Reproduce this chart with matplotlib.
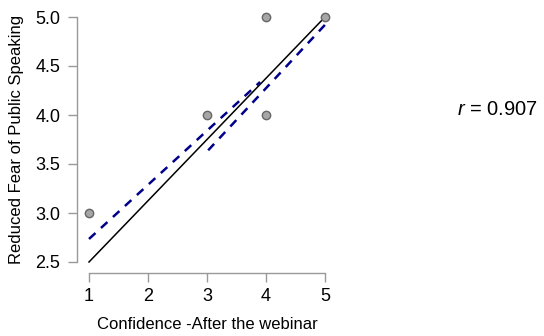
import matplotlib
matplotlib.use("Agg")
import matplotlib.pyplot as plt

plt.rcParams['font.family'] = ['Liberation Sans', 'DejaVu Sans']
plt.rcParams['mathtext.fontset'] = 'custom'
plt.rcParams['mathtext.it'] = 'Liberation Sans:italic'
plt.rcParams['mathtext.rm'] = 'Liberation Sans'

# data
conf_after = [1, 3, 4, 4, 5]
reduced_fear = [3, 4, 4, 5, 5]
fit_x = [1, 5]
fit_y = [2.5, 5.0]
dash1_x = [1.0, 3.9]
dash1_y = [2.735, 4.337]
dash2_x = [3.02, 5.0]
dash2_y = [3.64, 4.92]
x_ticks = [1, 2, 3, 4, 5]
y_ticks = [2.5, 3.0, 3.5, 4.0, 4.5, 5.0]
r_value = 0.907

W, H = 544, 336
fig = plt.figure(figsize=(W / 100, H / 100), dpi=100)
ax = fig.add_axes([89 / W, (H - 262) / H, (325 - 89) / W, (262 - 17) / H])

ax.plot(fit_x, fit_y, color='black', lw=1.1, clip_on=False, zorder=2)
ax.plot(dash1_x, dash1_y, color='#00008B', lw=1.8, dashes=(3.5, 3), clip_on=False, zorder=3)
ax.plot(dash2_x, dash2_y, color='#00008B', lw=1.8, dashes=(3.5, 3), clip_on=False, zorder=3)
ax.scatter(conf_after, reduced_fear, s=36, facecolor='#a6a6a6', edgecolor='#666666',
           linewidth=1, clip_on=False, zorder=4)

ax.set_xlim(1, 5)
ax.set_ylim(2.5, 5.0)
ax.set_xticks(x_ticks)
ax.set_yticks(y_ticks)
ax.set_yticklabels([f"{v:.1f}" for v in y_ticks])

for s in ['top', 'right']:
    ax.spines[s].set_visible(False)
ax.spines['left'].set_position(('outward', 8.6))
ax.spines['bottom'].set_position(('outward', 8))
ax.spines['left'].set_bounds(2.5, 5.0)
ax.spines['bottom'].set_bounds(1, 5)
for s in ['left', 'bottom']:
    ax.spines[s].set_color('#999999')
    ax.spines[s].set_linewidth(1)
ax.tick_params(axis='both', color='#999999', length=6.5, width=1, labelsize=13)
ax.tick_params(axis='x', pad=4)
ax.tick_params(axis='y', pad=5.5)

ax.set_xlabel("Confidence -After the webinar", fontsize=12, labelpad=9)
ax.set_ylabel("Reduced Fear of Public Speaking", fontsize=12, labelpad=8)

fig.text(457 / W, 1 - 110 / H, f"$r$ = {r_value:.3f}", fontsize=14.5, va='center', ha='left')

fig.savefig("out.png", dpi=100)
